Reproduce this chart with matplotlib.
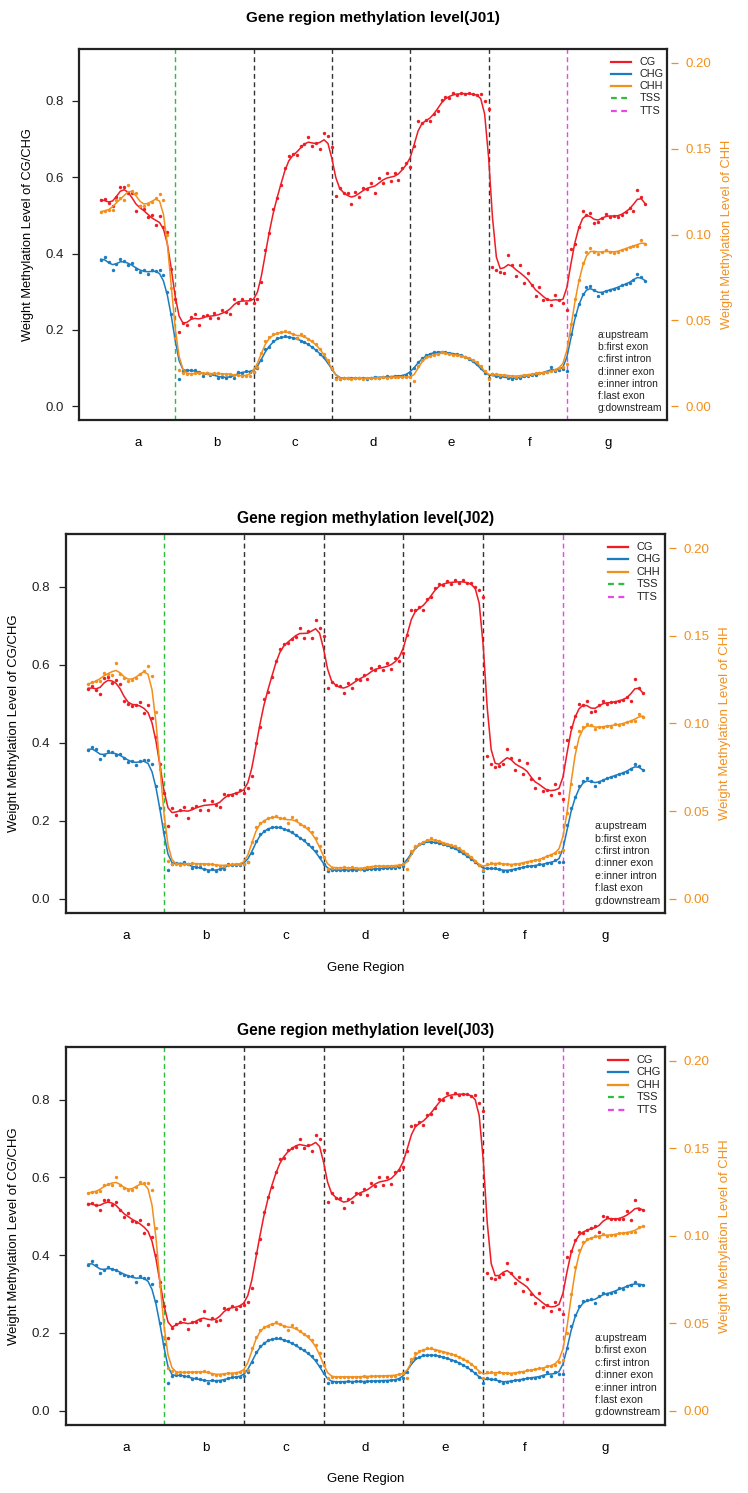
import numpy as np
import matplotlib
matplotlib.use("Agg")
import matplotlib.pyplot as plt
from matplotlib.patches import Rectangle

plt.rcParams['font.family'] = ['Liberation Sans', 'DejaVu Sans']

# regions, 20 bins each
regions = ['a', 'b', 'c', 'd', 'e', 'f', 'g']
region_names = ['a:upstream', 'b:first exon', 'c:first intron', 'd:inner exon',
                'e:inner intron', 'f:last exon', 'g:downstream']
legend_labels = ['CG', 'CHG', 'CHH', 'TSS', 'TTS']
boundaries = [20, 40, 60, 80, 100, 120]
left_ticks = [0.0, 0.2, 0.4, 0.6, 0.8]
right_ticks = [0.00, 0.05, 0.10, 0.15, 0.20]

# ---- J01 ----
j01_cg = [0.54, 0.542, 0.533, 0.525, 0.548, 0.575, 0.575, 0.56, 0.558, 0.511, 0.524, 0.518, 0.496, 0.50, 0.474, 0.498, 0.47, 0.457, 0.36, 0.28,
          0.195, 0.217, 0.212, 0.233, 0.243, 0.212, 0.236, 0.24, 0.23, 0.244, 0.23, 0.251, 0.247, 0.241, 0.281, 0.27, 0.281, 0.271, 0.281, 0.27,
          0.28, 0.326, 0.409, 0.453, 0.518, 0.545, 0.579, 0.624, 0.655, 0.66, 0.658, 0.681, 0.686, 0.706, 0.682, 0.691, 0.675, 0.716, 0.708, 0.68,
          0.55, 0.571, 0.558, 0.558, 0.529, 0.562, 0.549, 0.572, 0.568, 0.584, 0.559, 0.597, 0.585, 0.61, 0.59, 0.611, 0.594, 0.625, 0.638, 0.627,
          0.681, 0.747, 0.742, 0.751, 0.747, 0.767, 0.774, 0.802, 0.81, 0.808, 0.822, 0.815, 0.822, 0.817, 0.821, 0.817, 0.815, 0.819, 0.799, 0.778,
          0.365, 0.356, 0.352, 0.349, 0.396, 0.37, 0.341, 0.37, 0.323, 0.349, 0.318, 0.288, 0.313, 0.278, 0.281, 0.265, 0.291, 0.278, 0.27, 0.252,
          0.413, 0.426, 0.47, 0.512, 0.50, 0.507, 0.479, 0.483, 0.494, 0.503, 0.497, 0.499, 0.497, 0.50, 0.509, 0.52, 0.512, 0.566, 0.547, 0.529]
j01_chg = [0.383, 0.39, 0.378, 0.358, 0.373, 0.386, 0.381, 0.371, 0.375, 0.36, 0.353, 0.357, 0.346, 0.356, 0.355, 0.356, 0.343, 0.30, 0.243, 0.182,
           0.072, 0.093, 0.095, 0.094, 0.095, 0.09, 0.08, 0.087, 0.082, 0.085, 0.074, 0.077, 0.074, 0.078, 0.075, 0.09, 0.088, 0.092, 0.09, 0.09,
           0.099, 0.12, 0.151, 0.156, 0.171, 0.178, 0.182, 0.183, 0.182, 0.18, 0.178, 0.172, 0.169, 0.162, 0.155, 0.147, 0.138, 0.128, 0.115, 0.098,
           0.075, 0.072, 0.074, 0.073, 0.073, 0.074, 0.074, 0.073, 0.072, 0.075, 0.077, 0.075, 0.076, 0.078, 0.077, 0.078, 0.079, 0.08, 0.082, 0.086,
           0.101, 0.115, 0.126, 0.133, 0.138, 0.141, 0.143, 0.142, 0.141, 0.14, 0.138, 0.136, 0.133, 0.13, 0.125, 0.118, 0.11, 0.1, 0.088, 0.074,
           0.085, 0.078, 0.076, 0.078, 0.075, 0.072, 0.073, 0.075, 0.078, 0.08, 0.082, 0.083, 0.086, 0.087, 0.09, 0.103, 0.093, 0.095, 0.097, 0.092,
           0.19, 0.238, 0.268, 0.295, 0.312, 0.315, 0.305, 0.29, 0.298, 0.303, 0.305, 0.308, 0.31, 0.318, 0.32, 0.322, 0.33, 0.346, 0.338, 0.328]
j01_chh = [0.1133, 0.1138, 0.1144, 0.114, 0.12, 0.1211, 0.12, 0.1289, 0.1256, 0.1244, 0.1167, 0.1167, 0.1178, 0.1189, 0.1211, 0.1233, 0.12, 0.1, 0.0689, 0.0396,
           0.0211, 0.0193, 0.0187, 0.0187, 0.0191, 0.0196, 0.0193, 0.0191, 0.0189, 0.0191, 0.0191, 0.0189, 0.0189, 0.0187, 0.0182, 0.018, 0.0178, 0.0176, 0.0178, 0.02,
           0.0231, 0.0311, 0.0382, 0.0402, 0.0418, 0.0424, 0.0431, 0.044, 0.0431, 0.0422, 0.0398, 0.0422, 0.0407, 0.0391, 0.0378, 0.036, 0.0333, 0.0304, 0.0267, 0.0222,
           0.0156, 0.016, 0.0162, 0.0162, 0.016, 0.0164, 0.0162, 0.016, 0.0164, 0.0164, 0.0167, 0.0164, 0.0169, 0.0167, 0.0169, 0.0169, 0.0171, 0.0169, 0.0173, 0.0171,
           0.0147, 0.0233, 0.0271, 0.0284, 0.0293, 0.03, 0.0307, 0.0313, 0.0311, 0.0304, 0.03, 0.0298, 0.0293, 0.0289, 0.0282, 0.0271, 0.0258, 0.0236, 0.0204, 0.016,
           0.0189, 0.0189, 0.0182, 0.0184, 0.0178, 0.0176, 0.0173, 0.0178, 0.0182, 0.0182, 0.0187, 0.0191, 0.0196, 0.0193, 0.02, 0.0204, 0.0211, 0.0222, 0.0229, 0.0244,
           0.0478, 0.0622, 0.0733, 0.0833, 0.09, 0.0922, 0.09, 0.0889, 0.09, 0.0907, 0.09, 0.0893, 0.09, 0.0911, 0.0916, 0.0929, 0.0933, 0.0933, 0.0967, 0.0942]

# ---- J02 ----
j02_cg = [0.538, 0.547, 0.536, 0.525, 0.567, 0.569, 0.553, 0.56, 0.551, 0.507, 0.5, 0.495, 0.498, 0.504, 0.476, 0.498, 0.464, 0.414, 0.345, 0.27,
          0.187, 0.233, 0.215, 0.228, 0.236, 0.208, 0.234, 0.237, 0.227, 0.254, 0.227, 0.251, 0.24, 0.235, 0.268, 0.266, 0.266, 0.27, 0.278, 0.27,
          0.284, 0.315, 0.4, 0.44, 0.513, 0.53, 0.568, 0.609, 0.64, 0.654, 0.656, 0.667, 0.672, 0.695, 0.67, 0.688, 0.669, 0.716, 0.695, 0.675,
          0.541, 0.555, 0.548, 0.545, 0.527, 0.553, 0.541, 0.565, 0.56, 0.575, 0.565, 0.592, 0.587, 0.596, 0.587, 0.604, 0.589, 0.617, 0.61, 0.63,
          0.678, 0.74, 0.74, 0.749, 0.742, 0.77, 0.774, 0.798, 0.807, 0.805, 0.816, 0.807, 0.817, 0.81, 0.817, 0.81, 0.81, 0.801, 0.793, 0.774,
          0.367, 0.345, 0.338, 0.341, 0.345, 0.385, 0.36, 0.329, 0.355, 0.32, 0.347, 0.307, 0.284, 0.31, 0.277, 0.28, 0.266, 0.294, 0.27, 0.255,
          0.407, 0.44, 0.468, 0.5, 0.498, 0.507, 0.479, 0.482, 0.496, 0.507, 0.5, 0.504, 0.504, 0.508, 0.51, 0.517, 0.508, 0.563, 0.542, 0.527]
j02_chg = [0.381, 0.39, 0.384, 0.358, 0.369, 0.378, 0.376, 0.37, 0.372, 0.362, 0.352, 0.354, 0.342, 0.354, 0.356, 0.355, 0.345, 0.29, 0.234, 0.17,
           0.073, 0.088, 0.091, 0.09, 0.094, 0.088, 0.08, 0.081, 0.081, 0.075, 0.071, 0.075, 0.071, 0.075, 0.077, 0.089, 0.087, 0.087, 0.087, 0.089,
           0.093, 0.118, 0.148, 0.165, 0.174, 0.18, 0.184, 0.185, 0.183, 0.18, 0.176, 0.17, 0.164, 0.157, 0.15, 0.141, 0.132, 0.122, 0.106, 0.088,
           0.072, 0.073, 0.073, 0.074, 0.073, 0.074, 0.074, 0.073, 0.075, 0.073, 0.075, 0.076, 0.077, 0.077, 0.078, 0.079, 0.079, 0.08, 0.081, 0.083,
           0.1, 0.118, 0.133, 0.14, 0.144, 0.147, 0.146, 0.145, 0.142, 0.14, 0.137, 0.133, 0.129, 0.123, 0.116, 0.109, 0.102, 0.095, 0.086, 0.07,
           0.079, 0.078, 0.078, 0.075, 0.072, 0.071, 0.074, 0.076, 0.078, 0.081, 0.083, 0.084, 0.084, 0.088, 0.087, 0.092, 0.092, 0.1, 0.094, 0.093,
           0.19, 0.234, 0.26, 0.288, 0.302, 0.309, 0.302, 0.29, 0.3, 0.305, 0.309, 0.312, 0.316, 0.32, 0.322, 0.326, 0.332, 0.345, 0.341, 0.329]
j02_chh = [0.1224, 0.1233, 0.124, 0.1244, 0.1287, 0.1282, 0.1278, 0.1344, 0.1282, 0.126, 0.124, 0.1249, 0.126, 0.128, 0.13, 0.1329, 0.1269, 0.1062, 0.074, 0.0427,
           0.0216, 0.02, 0.0196, 0.0193, 0.0198, 0.0196, 0.0202, 0.02, 0.0198, 0.02, 0.0198, 0.0196, 0.0193, 0.0189, 0.0187, 0.0193, 0.0196, 0.0196, 0.0196, 0.0198,
           0.0209, 0.0324, 0.0411, 0.0433, 0.0444, 0.0458, 0.0467, 0.0469, 0.0462, 0.0458, 0.0433, 0.0467, 0.0447, 0.0427, 0.0413, 0.0402, 0.0378, 0.0347, 0.03, 0.024,
           0.0171, 0.0176, 0.0176, 0.0176, 0.0178, 0.0176, 0.0178, 0.0173, 0.0171, 0.0173, 0.0182, 0.0182, 0.0187, 0.0187, 0.0184, 0.0187, 0.0187, 0.0187, 0.0193, 0.0196,
           0.0169, 0.0271, 0.0298, 0.0313, 0.0324, 0.0333, 0.0344, 0.0336, 0.0327, 0.0318, 0.0313, 0.0304, 0.0298, 0.0287, 0.0271, 0.0256, 0.0238, 0.0216, 0.0193, 0.0164,
           0.0196, 0.0204, 0.02, 0.0204, 0.0198, 0.0196, 0.0193, 0.0196, 0.0198, 0.0204, 0.0211, 0.0216, 0.022, 0.0218, 0.0233, 0.0242, 0.0251, 0.0258, 0.0267, 0.0278,
           0.0489, 0.0653, 0.0867, 0.0956, 0.0978, 0.0996, 0.0993, 0.0967, 0.0978, 0.098, 0.0987, 0.0982, 0.0996, 0.0991, 0.0996, 0.1007, 0.1016, 0.1011, 0.1053, 0.1036]

# ---- J03 ----
j03_cg = [0.532, 0.534, 0.528, 0.516, 0.543, 0.541, 0.53, 0.538, 0.516, 0.497, 0.508, 0.487, 0.485, 0.491, 0.458, 0.481, 0.448, 0.40, 0.33, 0.27,
          0.188, 0.212, 0.222, 0.227, 0.236, 0.211, 0.228, 0.229, 0.232, 0.255, 0.221, 0.238, 0.231, 0.234, 0.264, 0.262, 0.268, 0.262, 0.27, 0.272,
          0.28, 0.315, 0.405, 0.441, 0.51, 0.55, 0.575, 0.613, 0.647, 0.65, 0.671, 0.675, 0.678, 0.699, 0.675, 0.684, 0.667, 0.709, 0.699, 0.671,
          0.536, 0.56, 0.548, 0.548, 0.521, 0.544, 0.538, 0.56, 0.558, 0.57, 0.556, 0.586, 0.577, 0.6, 0.581, 0.601, 0.584, 0.613, 0.62, 0.628,
          0.667, 0.733, 0.735, 0.742, 0.736, 0.761, 0.764, 0.778, 0.801, 0.8, 0.818, 0.808, 0.817, 0.813, 0.816, 0.815, 0.81, 0.812, 0.793, 0.772,
          0.354, 0.342, 0.338, 0.345, 0.352, 0.38, 0.354, 0.328, 0.345, 0.309, 0.338, 0.301, 0.278, 0.302, 0.266, 0.272, 0.255, 0.28, 0.262, 0.249,
          0.395, 0.41, 0.44, 0.46, 0.458, 0.465, 0.469, 0.474, 0.459, 0.501, 0.497, 0.493, 0.492, 0.494, 0.492, 0.513, 0.491, 0.541, 0.518, 0.517]
j03_chg = [0.375, 0.384, 0.375, 0.353, 0.363, 0.37, 0.365, 0.363, 0.355, 0.35, 0.346, 0.347, 0.332, 0.346, 0.342, 0.34, 0.327, 0.281, 0.225, 0.17,
           0.072, 0.088, 0.092, 0.092, 0.09, 0.088, 0.08, 0.083, 0.08, 0.079, 0.072, 0.079, 0.077, 0.075, 0.079, 0.083, 0.086, 0.086, 0.087, 0.088,
           0.1, 0.125, 0.15, 0.165, 0.174, 0.181, 0.185, 0.186, 0.186, 0.182, 0.178, 0.174, 0.168, 0.161, 0.155, 0.149, 0.141, 0.13, 0.114, 0.097,
           0.072, 0.074, 0.074, 0.074, 0.074, 0.075, 0.074, 0.075, 0.075, 0.074, 0.075, 0.076, 0.076, 0.077, 0.077, 0.077, 0.078, 0.079, 0.08, 0.085,
           0.1, 0.125, 0.134, 0.139, 0.142, 0.143, 0.143, 0.143, 0.141, 0.137, 0.134, 0.131, 0.128, 0.123, 0.117, 0.111, 0.104, 0.097, 0.087, 0.071,
           0.083, 0.082, 0.08, 0.075, 0.072, 0.074, 0.076, 0.078, 0.079, 0.08, 0.083, 0.085, 0.084, 0.087, 0.088, 0.1, 0.088, 0.099, 0.094, 0.093,
           0.16, 0.217, 0.247, 0.268, 0.281, 0.285, 0.287, 0.278, 0.294, 0.302, 0.3, 0.303, 0.306, 0.315, 0.313, 0.321, 0.324, 0.33, 0.324, 0.324]
j03_chh = [0.1244, 0.1251, 0.1251, 0.1256, 0.1293, 0.1296, 0.1289, 0.1336, 0.1289, 0.1271, 0.126, 0.126, 0.1278, 0.1309, 0.13, 0.1304, 0.126, 0.1042, 0.0711, 0.0422,
           0.0244, 0.0224, 0.0216, 0.0218, 0.0218, 0.0218, 0.0222, 0.0218, 0.0222, 0.0227, 0.0218, 0.0211, 0.0204, 0.0204, 0.0211, 0.0216, 0.0211, 0.0216, 0.0218, 0.0224,
           0.0231, 0.0356, 0.0422, 0.0462, 0.0478, 0.0484, 0.0496, 0.0509, 0.0496, 0.0484, 0.0462, 0.0491, 0.0471, 0.0453, 0.044, 0.0424, 0.0404, 0.0376, 0.0329, 0.0262,
           0.0184, 0.0193, 0.0193, 0.0191, 0.0193, 0.0193, 0.0193, 0.0191, 0.0193, 0.0196, 0.0193, 0.0196, 0.0196, 0.0196, 0.0198, 0.0198, 0.02, 0.02, 0.0209, 0.0216,
           0.0187, 0.0296, 0.0329, 0.0342, 0.0349, 0.0356, 0.0356, 0.0349, 0.0342, 0.0336, 0.0331, 0.0322, 0.0318, 0.0307, 0.0293, 0.0284, 0.0269, 0.0251, 0.0222, 0.0187,
           0.0218, 0.0222, 0.0211, 0.0222, 0.0213, 0.0216, 0.0207, 0.0216, 0.0222, 0.0218, 0.0231, 0.0229, 0.0238, 0.0242, 0.0238, 0.0253, 0.0256, 0.0262, 0.0278, 0.0291,
           0.0444, 0.0667, 0.0822, 0.092, 0.0967, 0.0984, 0.0987, 0.0996, 0.0993, 0.1011, 0.1, 0.1004, 0.1004, 0.1018, 0.1013, 0.1018, 0.1024, 0.1022, 0.1049, 0.1053]

C_CG = '#EE1C25'
C_CHG = '#1B7CC0'
C_CHH = '#F2901E'
C_TSS = '#2DBE3C'
C_TTS = '#E649E6'
C_BND = '#333333'

W, H = 748, 1493
fig = plt.figure(figsize=(W / 100, H / 100), dpi=100)


def smooth(y, bw=1.1):
    # local linear (gaussian kernel) smoother, like a loess fit of the bins
    y = np.asarray(y, dtype=float)
    xs = np.arange(len(y), dtype=float)
    out = np.empty_like(y)
    for k, xi in enumerate(xs):
        w = np.exp(-0.5 * ((xs - xi) / bw) ** 2)
        sw = w.sum()
        xm = (w * xs).sum() / sw
        ym = (w * y).sum() / sw
        b = (w * (xs - xm) * (y - ym)).sum() / (w * (xs - xm) ** 2).sum()
        out[k] = ym + b * (xi - xm)
    return out


def draw_panel(box, s, title, title_y, cg, chg, chh, xlab_y):
    l, t, r, b = box
    ax = fig.add_axes([l / W, 1 - b / H, (r - l) / W, (b - t) / H])
    x = np.arange(1, len(cg) + 1)
    pad = 0.04 * (len(cg) - 1)
    ax.set_xlim(1 - pad, len(cg) + pad)
    ax.set_ylim(-0.036, 0.936)
    ax2 = ax.twinx()
    ax2.spines['right'].set_position(('outward', 3 * s))
    ax2.set_ylim(-0.008, 0.208)
    ax2.set_xlim(1 - pad, len(cg) + pad)

    def ax_pos(px, py):
        return (px - l) / (r - l), (b - py) / (b - t)

    # region boundaries
    for k, xb in enumerate(boundaries):
        c = C_TSS if k == 0 else (C_TTS if k == len(boundaries) - 1 else C_BND)
        ax.axvline(xb, color=c, lw=1.0 * s, ls=(0, (3.5, 2.5)), zorder=1)

    ax.scatter(x, cg, s=6 * s, color=C_CG, lw=0, zorder=3)
    ax.plot(x, smooth(cg), color=C_CG, lw=1.1 * s, zorder=3)
    ax.scatter(x, chg, s=6 * s, color=C_CHG, lw=0, zorder=3)
    ax.plot(x, smooth(chg), color=C_CHG, lw=1.1 * s, zorder=3)
    ax2.scatter(x, chh, s=6 * s, color=C_CHH, lw=0, zorder=3)
    ax2.plot(x, smooth(chh), color=C_CHH, lw=1.1 * s, zorder=3)

    fs = 9.5 * s
    ax.set_yticks(left_ticks)
    ax.set_yticklabels(['%.1f' % v for v in left_ticks], fontsize=fs)
    ax.tick_params(axis='y', length=5 * s, width=0.9, pad=6 * s, color='#222222',
                   labelcolor='#222222')
    ax.set_xticks([])
    ax2.set_xticks([])
    ax2.set_yticks(right_ticks)
    ax2.set_yticklabels(['%.2f' % v for v in right_ticks], fontsize=fs)
    ax2.tick_params(axis='y', length=5 * s, width=0.9, pad=5 * s, color=C_CHH,
                    labelcolor=C_CHH)
    for sp in ax2.spines.values():
        sp.set_visible(False)
    for sp in ax.spines.values():
        sp.set_linewidth(1.6 * s)
        sp.set_color('#222222')

    ax.set_ylabel('Weight Methylation Level of CG/CHG', fontsize=9.3 * s, labelpad=8 * s)
    ax2.set_ylabel('Weight Methylation Level of CHH', fontsize=9.3 * s, color=C_CHH,
                   rotation=90, labelpad=7 * s)

    # region letters below the box
    centers = [10.5 + 20 * k for k in range(len(regions))]
    for c, lab in zip(centers, regions):
        ax.text(c, -23 * s / (b - t), lab, transform=ax.get_xaxis_transform(),
                ha='center', va='center', fontsize=fs)

    fig.text(((l + r) / 2) / W, 1 - xlab_y / H, 'Gene Region', ha='center',
             va='center', fontsize=9.3 * s)
    fig.text(((l + r) / 2) / W, 1 - title_y / H, title, ha='center', va='center',
             fontsize=11.0 * s, fontweight='bold')

    # legend, top right
    leg_cols = [C_CG, C_CHG, C_CHH, C_TSS, C_TTS]
    for k, (lab, c) in enumerate(zip(legend_labels, leg_cols)):
        py = t + (12.7 + 12.2 * k) * s
        x0, y0 = ax_pos(r - 56 * s, py)
        x1, _ = ax_pos(r - 36 * s, py)
        ls = '-' if k < 3 else (0, (2.6, 2.0))
        ax.plot([x0, x1], [y0, y0], transform=ax.transAxes, color=c, lw=1.6 * s,
                ls=ls, clip_on=False, zorder=5)
        xt, _ = ax_pos(r - 27.7 * s, py)
        ax.text(xt, y0, lab, transform=ax.transAxes, ha='left', va='center',
                fontsize=7.8 * s, color='#222222')

    # region key, bottom right
    for k, lab in enumerate(region_names):
        py = b - (85 - 12.2 * k) * s
        xt, yt = ax_pos(r - 69 * s, py)
        ax.text(xt, yt, lab, transform=ax.transAxes, ha='left', va='center',
                fontsize=7.4 * s, color='#222222')
    return ax


draw_panel((79, 49, 667, 420), 1.0, 'Gene region methylation level(J01)', 18,
           j01_cg, j01_chg, j01_chh, 477)
# the first panel was cut just under its axis letters
fig.patches.append(Rectangle((0, 1 - 500 / H), 1, (500 - 471) / H,
                             transform=fig.transFigure, facecolor='white',
                             edgecolor='none', zorder=10))
draw_panel((66, 534, 665, 912.7), 1.0185, 'Gene region methylation level(J02)', 519,
           j02_cg, j02_chg, j02_chh, 968)
draw_panel((66, 1047, 665, 1424.5), 1.0185, 'Gene region methylation level(J03)', 1030,
           j03_cg, j03_chg, j03_chh, 1479)

fig.savefig('out.png', dpi=100)
